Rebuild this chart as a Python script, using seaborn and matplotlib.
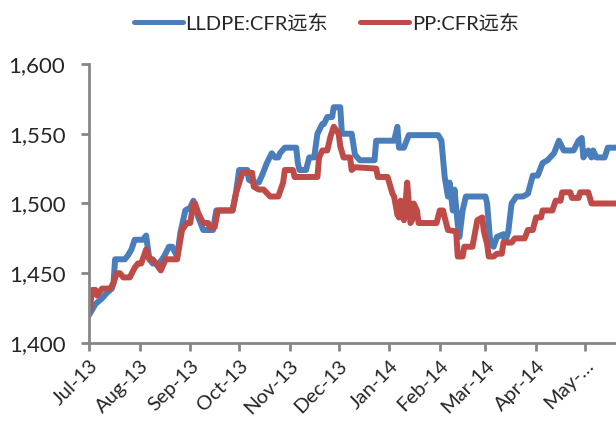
import numpy as np
import pandas as pd
import matplotlib
matplotlib.use('Agg')
import matplotlib.pyplot as plt
import seaborn as sns

# values (USD/t)
LLDPE_DATES = ['2013-07-01', '2013-07-03', '2013-07-05', '2013-07-09', '2013-07-12', '2013-07-15',
               '2013-07-16', '2013-07-17', '2013-07-23', '2013-07-25', '2013-07-27', '2013-07-29',
               '2013-08-03', '2013-08-05', '2013-08-07', '2013-08-09', '2013-08-13', '2013-08-16',
               '2013-08-19', '2013-08-21', '2013-08-24', '2013-08-26', '2013-08-29', '2013-09-01',
               '2013-09-03', '2013-09-06', '2013-09-09', '2013-09-15', '2013-09-16', '2013-09-17',
               '2013-09-27', '2013-09-29', '2013-10-01', '2013-10-06', '2013-10-07', '2013-10-10',
               '2013-10-13', '2013-10-15', '2013-10-18', '2013-10-21', '2013-10-23', '2013-10-25',
               '2013-10-26', '2013-10-29', '2013-11-05', '2013-11-06', '2013-11-07', '2013-11-11',
               '2013-11-13', '2013-11-16', '2013-11-18', '2013-11-21', '2013-11-22', '2013-11-24',
               '2013-11-27', '2013-11-28', '2013-12-02', '2013-12-03', '2013-12-09', '2013-12-11',
               '2013-12-14', '2013-12-23', '2013-12-24', '2014-01-04', '2014-01-06', '2014-01-07',
               '2014-01-10', '2014-01-13', '2014-01-31', '2014-02-02', '2014-02-04', '2014-02-06',
               '2014-02-07', '2014-02-09', '2014-02-10', '2014-02-12', '2014-02-13', '2014-02-15',
               '2014-02-17', '2014-03-01', '2014-03-02', '2014-03-04', '2014-03-06', '2014-03-08',
               '2014-03-12', '2014-03-13', '2014-03-15', '2014-03-17', '2014-03-20', '2014-03-24',
               '2014-03-27', '2014-03-30', '2014-04-02', '2014-04-05', '2014-04-08', '2014-04-12',
               '2014-04-15', '2014-04-18', '2014-04-24', '2014-04-27', '2014-04-29', '2014-04-30',
               '2014-05-03', '2014-05-05', '2014-05-06', '2014-05-08', '2014-05-13', '2014-05-15',
               '2014-05-20']
LLDPE_VALUES = [1420, 1424, 1428, 1432, 1436, 1439,
                1443, 1460, 1460, 1463, 1467, 1474,
                1474, 1477, 1460, 1457, 1457, 1462,
                1469, 1469, 1462, 1479, 1495, 1497,
                1502, 1490, 1481, 1481, 1488, 1495,
                1495, 1507, 1524, 1524, 1517, 1515,
                1515, 1520, 1529, 1536, 1533, 1533,
                1536, 1540, 1540, 1529, 1524, 1524,
                1533, 1533, 1550, 1557, 1557, 1562,
                1562, 1569, 1569, 1550, 1550, 1535,
                1531, 1531, 1545, 1545, 1555, 1540,
                1540, 1549, 1549, 1545, 1519, 1505,
                1515, 1495, 1510, 1485, 1476, 1495,
                1505, 1505, 1500, 1471, 1469, 1476,
                1478, 1472, 1480, 1500, 1505, 1505,
                1507, 1520, 1520, 1529, 1531, 1536,
                1545, 1538, 1538, 1545, 1547, 1533,
                1538, 1533, 1538, 1533, 1533, 1540,
                1540]

PP_DATES = ['2013-07-01', '2013-07-03', '2013-07-05', '2013-07-06', '2013-07-09', '2013-07-14',
            '2013-07-16', '2013-07-18', '2013-07-20', '2013-07-22', '2013-07-26', '2013-07-29',
            '2013-07-31', '2013-08-02', '2013-08-05', '2013-08-07', '2013-08-09', '2013-08-11',
            '2013-08-14', '2013-08-17', '2013-08-24', '2013-08-27', '2013-08-30', '2013-09-01',
            '2013-09-03', '2013-09-04', '2013-09-06', '2013-09-09', '2013-09-12', '2013-09-13',
            '2013-09-16', '2013-09-18', '2013-09-27', '2013-09-29', '2013-10-03', '2013-10-09',
            '2013-10-10', '2013-10-13', '2013-10-16', '2013-10-20', '2013-10-25', '2013-10-28',
            '2013-10-29', '2013-11-03', '2013-11-04', '2013-11-18', '2013-11-19', '2013-11-21',
            '2013-11-24', '2013-11-26', '2013-11-28', '2013-12-01', '2013-12-02', '2013-12-04',
            '2013-12-08', '2013-12-09', '2013-12-11', '2013-12-24', '2013-12-25', '2013-12-31',
            '2014-01-01', '2014-01-03', '2014-01-04', '2014-01-06', '2014-01-07', '2014-01-08',
            '2014-01-09', '2014-01-10', '2014-01-11', '2014-01-12', '2014-01-14', '2014-01-15',
            '2014-01-16', '2014-01-18', '2014-01-19', '2014-01-30', '2014-02-01', '2014-02-03',
            '2014-02-04', '2014-02-06', '2014-02-11', '2014-02-12', '2014-02-15', '2014-02-16',
            '2014-02-21', '2014-02-24', '2014-02-27', '2014-02-28', '2014-03-02', '2014-03-03',
            '2014-03-06', '2014-03-08', '2014-03-11', '2014-03-12', '2014-03-17', '2014-03-19',
            '2014-03-25', '2014-03-27', '2014-03-30', '2014-04-01', '2014-04-04', '2014-04-05',
            '2014-04-11', '2014-04-13', '2014-04-16', '2014-04-17', '2014-04-22', '2014-04-23',
            '2014-04-27', '2014-04-28', '2014-05-03', '2014-05-05', '2014-05-20']
PP_VALUES = [1422, 1438, 1438, 1434, 1439, 1439,
             1443, 1450, 1450, 1447, 1447, 1454,
             1457, 1457, 1467, 1460, 1460, 1457,
             1452, 1460, 1460, 1481, 1486, 1486,
             1500, 1500, 1493, 1486, 1486, 1483,
             1483, 1495, 1495, 1507, 1522, 1522,
             1512, 1510, 1510, 1505, 1505, 1515,
             1524, 1524, 1519, 1519, 1533, 1538,
             1538, 1548, 1555, 1550, 1541, 1533,
             1533, 1524, 1526, 1525, 1519, 1519,
             1515, 1507, 1505, 1492, 1490, 1502,
             1500, 1488, 1500, 1515, 1486, 1488,
             1500, 1495, 1486, 1486, 1495, 1495,
             1490, 1481, 1480, 1462, 1462, 1469,
             1469, 1488, 1490, 1480, 1471, 1462,
             1462, 1464, 1464, 1472, 1472, 1475,
             1475, 1481, 1481, 1490, 1490, 1495,
             1495, 1502, 1502, 1508, 1508, 1504,
             1504, 1508, 1508, 1500, 1500]

SERIES_NAMES = ['LLDPE:CFR远东', 'PP:CFR远东']
MONTH_TICKS = ['2013-07-01', '2013-08-01', '2013-09-01', '2013-10-01', '2013-11-01', '2013-12-01',
               '2014-01-01', '2014-02-01', '2014-03-01', '2014-04-01', '2014-05-01']
MONTH_LABELS = ['Jul-13', 'Aug-13', 'Sep-13', 'Oct-13', 'Nov-13', 'Dec-13',
                'Jan-14', 'Feb-14', 'Mar-14', 'Apr-14', 'May-…']
Y_TICKS = [1400, 1450, 1500, 1550, 1600]

df = pd.concat([
    pd.DataFrame({'date': pd.to_datetime(LLDPE_DATES), 'price': LLDPE_VALUES, 'series': SERIES_NAMES[0]}),
    pd.DataFrame({'date': pd.to_datetime(PP_DATES), 'price': PP_VALUES, 'series': SERIES_NAMES[1]}),
], ignore_index=True)

sns.set_style('white')
plt.rcParams['font.family'] = ['Lato', 'Noto Sans CJK SC', 'DejaVu Sans']

fig = plt.figure(figsize=(6.16, 4.21), dpi=100)
ax = fig.add_axes([0.1445, 0.1853, 0.8555, 0.6627])

palette = {SERIES_NAMES[0]: '#4A7EBB', SERIES_NAMES[1]: '#BE4B48'}
sns.lineplot(data=df, x='date', y='price', hue='series', palette=palette,
             linewidth=4.3, ax=ax, legend=True, estimator=None, sort=False)

ax.set_xlim(pd.Timestamp('2013-07-01'), pd.Timestamp('2014-05-20'))
ax.set_ylim(1400, 1600)
ax.set_yticks(Y_TICKS)
ax.set_yticklabels([f'{v:,}' for v in Y_TICKS], fontsize=16)
ax.set_xticks(pd.to_datetime(MONTH_TICKS))
ax.set_xticklabels(MONTH_LABELS, rotation=45, ha='right', rotation_mode='anchor', fontsize=14.5)
ax.set_xlabel('')
ax.set_ylabel('')

for s in ['top', 'right']:
    ax.spines[s].set_visible(False)
for s in ['left', 'bottom']:
    ax.spines[s].set_color('#868686')
    ax.spines[s].set_linewidth(2)
ax.tick_params(axis='both', length=6, width=2, color='#868686', direction='out',
               left=True, bottom=True)
ax.tick_params(axis='y', pad=11)
ax.tick_params(axis='x', pad=4)

h, l = ax.get_legend_handles_labels()
ax.get_legend().remove()
leg = fig.legend(h, l, loc='upper center', bbox_to_anchor=(0.53, 1.01), ncol=2, frameon=False,
                 fontsize=14.5, handlelength=2.4, handletextpad=0.15, columnspacing=1.6)
for line in leg.get_lines():
    line.set_linewidth(3.6)

fig.savefig('out.png', dpi=100)
